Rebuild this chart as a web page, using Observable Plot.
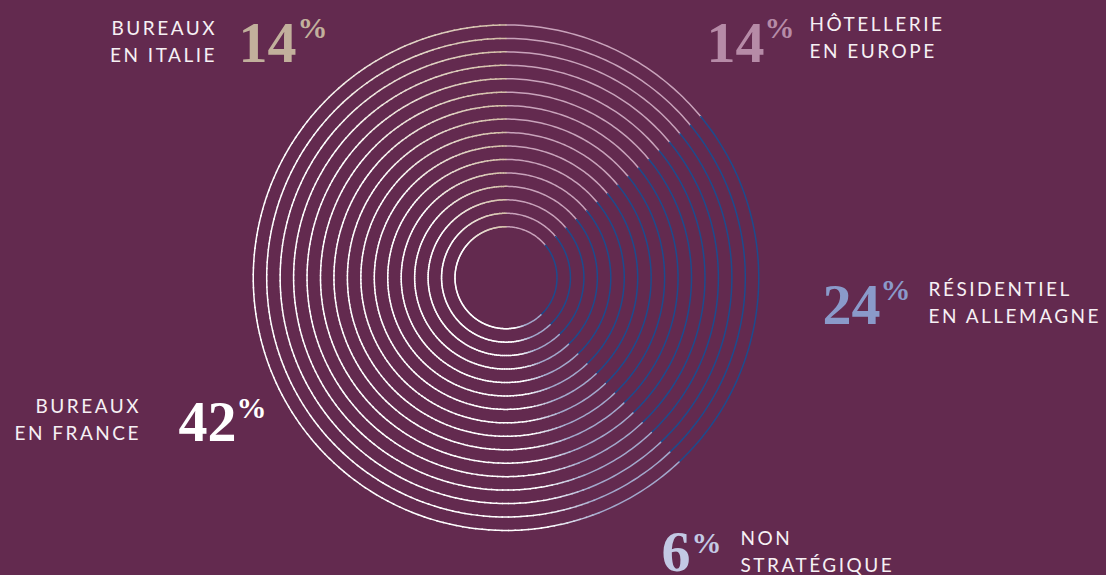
<!DOCTYPE html>
<html>
<head>
<meta charset="utf-8">
<script src="https://cdn.jsdelivr.net/npm/d3@7"></script>
<script src="https://cdn.jsdelivr.net/npm/@observablehq/plot@0.6"></script>
<style>
  html, body { margin: 0; padding: 0; background: #632a4f; }
  g[font-family="Lato"] { letter-spacing: 2.5px; }
</style>
</head>
<body>
<div id="chart"></div>
<script>
// ---- data ----
const categories = ["Hôtellerie en Europe", "Résidentiel en Allemagne", "Non stratégique", "Bureaux en France", "Bureaux en Italie"];
const shares = [14, 24, 6, 42, 14];
const labelTexts = ["HÔTELLERIE\nEN EUROPE", "RÉSIDENTIEL\nEN ALLEMAGNE", "NON\nSTRATÉGIQUE", "BUREAUX\nEN FRANCE", "BUREAUX\nEN ITALIE"];
const valueTexts = ["14", "24", "6", "42", "14"];

// ---- styles ----
const arcPalette = ["#c9a3bb", "#1d4b8d", "#a3a8cc", "#ffffff", "#d3bfa8"];
const numberPalette = ["#b68ba7", "#8a9aca", "#c3c9e4", "#ffffff", "#c2b09c"];
const textColor = "#f6f0f4";
const bg = "#632a4f";

// ---- layout ----
const W = 1106, H = 575;
const cx = 505.5, cy = 277.2;
const ringCount = 16, r0 = 51, rStep = 13.45;
const labelLayout = [
  {num: [764, 61], pct: [764, 37], text: [809, 57.5], side: "right"},
  {num: [880, 323], pct: [880, 299], text: [928, 322.7], side: "right"},
  {num: [690, 570], pct: [691, 552], text: [740, 571], side: "right"},
  {num: [236, 440], pct: [236, 417], text: [140.5, 439], side: "left"},
  {num: [296, 61], pct: [297, 37], text: [216.5, 61], side: "left"}
];

// ---- segments (clockwise from 12 o'clock) ----
let acc = 0;
const segs = shares.map((s, i) => {
  const a0 = acc / 100 * 360; acc += s;
  return {i, a0, a1: acc / 100 * 360};
});

function colorAt(seg, deg) {
  const i = seg.i;
  if (i === 4) {
    const f = (deg - seg.a0) / (seg.a1 - seg.a0);
    return d3.interpolateRgb(arcPalette[3], arcPalette[4])(Math.pow(f, 0.8));
  }
  if (i === 3) {
    const d = deg - seg.a0;
    if (d < 12) return d3.interpolateRgb(arcPalette[2], arcPalette[3])(d / 12);
  }
  return arcPalette[i];
}

const rows = [];
let id = 0;
for (let ring = 0; ring < ringCount; ring++) {
  const r = r0 + ring * rStep;
  for (const seg of segs) {
    const span = seg.a1 - seg.a0;
    const gradient = seg.i === 3 || seg.i === 4;
    const n = gradient ? Math.ceil(span / 1.5) : 1;
    for (let k = 0; k < n; k++) {
      const b0 = seg.a0 + span * k / n;
      const b1 = seg.a0 + span * (k + 1) / n + (k < n - 1 ? 0.1 : 0);
      const c = colorAt(seg, (b0 + b1) / 2);
      const nPts = Math.max(2, Math.ceil(b1 - b0) + 1);
      for (let j = 0; j < nPts; j++) {
        const a = (b0 + (b1 - b0) * j / (nPts - 1)) * Math.PI / 180;
        rows.push({x: r * Math.sin(a), y: -r * Math.cos(a), z: id, c});
      }
      id++;
    }
  }
}

const labels = categories.map((name, i) => ({
  name,
  label: labelTexts[i],
  value: valueTexts[i],
  color: numberPalette[i],
  side: labelLayout[i].side,
  nx: labelLayout[i].num[0] - cx, ny: labelLayout[i].num[1] - cy,
  px: labelLayout[i].pct[0] - cx, py: labelLayout[i].pct[1] - cy,
  tx: labelLayout[i].text[0] - cx, ty: labelLayout[i].text[1] - cy
}));

const chart = Plot.plot({
  width: W, height: H,
  margin: 0,
  x: {domain: [-cx, W - cx], range: [0, W], axis: null},
  y: {domain: [-cy, H - cy], range: [0, H], axis: null},
  style: {background: bg},
  marks: [
    Plot.line(rows, {x: "x", y: "y", z: "z", stroke: "c", strokeWidth: 1.5, curve: "linear"}),
    Plot.text(labels, {x: "nx", y: "ny", text: "value", fill: "color", textAnchor: "end", lineAnchor: "bottom",
      fontFamily: "Liberation Serif", fontWeight: "bold", fontSize: 58}),
    Plot.text(labels, {x: "px", y: "py", text: () => "%", fill: "color", textAnchor: "start", lineAnchor: "bottom",
      fontFamily: "Liberation Serif", fontWeight: "bold", fontSize: 30}),
    Plot.text(labels.filter(d => d.side === "right"), {x: "tx", y: "ty", text: "label", fill: textColor, textAnchor: "start",
      lineAnchor: "bottom", lineHeight: 1.42, fontFamily: "Lato", fontSize: 19}),
    Plot.text(labels.filter(d => d.side === "left"), {x: "tx", y: "ty", text: "label", fill: textColor, textAnchor: "end",
      lineAnchor: "bottom", lineHeight: 1.42, fontFamily: "Lato", fontSize: 19})
  ]
});
document.getElementById("chart").appendChild(chart);
</script>
</body>
</html>
